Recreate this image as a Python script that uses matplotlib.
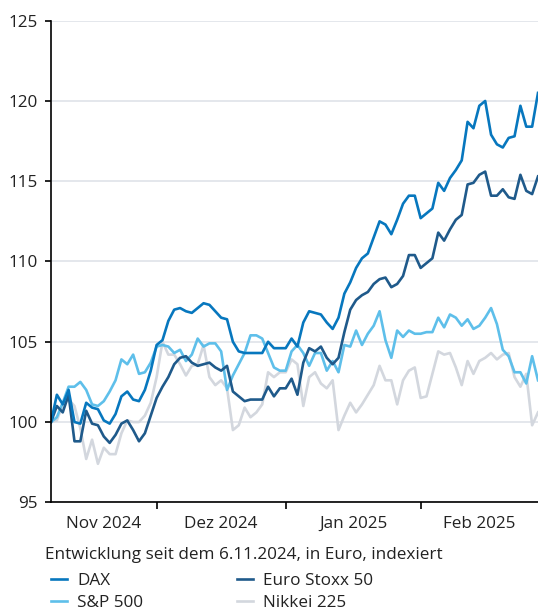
import numpy as np
import pandas as pd
import matplotlib
matplotlib.use("Agg")
import matplotlib.pyplot as plt

plt.rcParams['font.family'] = ['Open Sans', 'DejaVu Sans']

# ---------------------------
# Daten (Handelstage, indexiert 6.11.2024 = 100)
# ---------------------------
dates = pd.bdate_range('2024-11-06', '2025-03-03')

dax = [100.0, 101.7, 101.1, 102.0, 100.0, 99.9, 101.2, 100.9, 100.8, 100.1,
       99.9, 100.5, 101.6, 101.9, 101.4, 101.3, 102.0, 103.2, 104.8, 105.1,
       106.3, 107.0, 107.1, 106.9, 106.8, 107.1, 107.4, 107.3, 106.9, 106.5,
       106.4, 105.0, 104.4, 104.3, 104.3, 104.3, 104.3, 105.0, 104.6, 104.6,
       104.6, 105.2, 104.7, 106.2, 106.9, 106.8, 106.7, 106.2, 105.8, 106.5,
       108.0, 108.7, 109.6, 110.2, 110.5, 111.5, 112.5, 112.3, 111.7, 112.6,
       113.6, 114.1, 114.1, 112.7, 113.0, 113.3, 114.9, 114.4, 115.2, 115.7,
       116.3, 118.7, 118.3, 119.7, 120.0, 117.9, 117.3, 117.1, 117.7, 117.8,
       119.7, 118.4, 118.4, 120.5]

euro_stoxx = [100.0, 101.0, 100.6, 101.7, 98.8, 98.8, 100.7, 99.9, 99.8, 99.1,
              98.7, 99.2, 99.9, 100.1, 99.5, 98.8, 99.3, 100.4, 101.5, 102.2,
              102.8, 103.6, 104.0, 104.1, 103.7, 103.5, 103.6, 103.7, 103.4, 103.2,
              103.5, 101.9, 101.6, 101.3, 101.4, 101.4, 101.4, 102.2, 101.6, 102.1,
              102.1, 102.7, 101.7, 103.7, 104.6, 104.4, 104.7, 104.0, 103.6, 104.0,
              105.6, 107.0, 107.6, 107.9, 108.1, 108.6, 108.9, 109.0, 108.4, 108.6,
              109.1, 110.4, 110.4, 109.6, 109.9, 110.2, 111.8, 111.3, 112.0, 112.6,
              112.9, 114.8, 114.9, 115.4, 115.6, 114.1, 114.1, 114.5, 114.0, 113.9,
              115.4, 114.4, 114.2, 115.3]

sp500 = [100.0, 100.3, 101.2, 102.2, 102.2, 102.5, 102.0, 101.1, 101.0, 101.3,
         101.9, 102.6, 103.9, 103.6, 104.2, 103.0, 103.1, 103.7, 104.7, 104.8,
         104.7, 104.3, 104.5, 103.8, 104.2, 105.2, 104.7, 104.9, 104.9, 104.4,
         102.0, 102.9, 103.6, 104.3, 105.4, 105.4, 105.2, 104.3, 103.4, 103.2,
         103.2, 104.4, 104.8, 104.3, 103.5, 104.3, 104.3, 103.2, 103.8, 103.1,
         104.8, 104.7, 105.7, 104.8, 105.5, 106.0, 106.9, 105.1, 104.0, 105.7,
         105.3, 105.7, 105.5, 105.5, 105.6, 105.6, 106.5, 105.9, 106.7, 106.5,
         106.0, 106.4, 105.8, 106.0, 106.5, 107.1, 106.1, 104.5, 104.1, 103.1,
         103.1, 102.4, 104.1, 102.6]

nikkei = [100.0, 100.1, 101.1, 101.4, 101.0, 99.6, 97.7, 98.9, 97.4, 98.4,
          98.0, 98.0, 99.3, 100.1, 100.0, 100.0, 100.4, 101.2, 102.8, 105.0,
          104.2, 104.2, 103.6, 102.9, 103.5, 103.6, 104.8, 102.8, 102.3, 102.6,
          102.1, 99.5, 99.8, 100.9, 100.3, 100.6, 101.1, 103.1, 102.8, 103.1,
          103.1, 103.9, 103.6, 101.0, 102.8, 103.1, 102.4, 102.1, 102.6, 99.5,
          100.4, 101.2, 100.6, 101.1, 101.7, 102.3, 103.5, 102.6, 102.6, 101.1,
          102.6, 103.2, 103.4, 101.5, 101.6, 103.0, 104.4, 104.2, 104.3, 103.4,
          102.3, 103.8, 103.0, 103.8, 104.0, 104.3, 103.9, 104.2, 104.3, 102.8,
          102.2, 103.0, 99.8, 100.6]

monate = ['Jan', 'Feb', 'Mär', 'Apr', 'Mai', 'Jun',
          'Jul', 'Aug', 'Sep', 'Okt', 'Nov', 'Dez']

fs = 12.3

# ---------------------------
# Grafik
# ---------------------------
fig = plt.figure(figsize=(5.38, 6.12), dpi=100)
ax = fig.add_axes([51 / 538, 1 - 502.3 / 612, 487 / 538, 481.6 / 612])

x = np.arange(len(dates))
lw = 1.9
l_nik, = ax.plot(x, nikkei, color='#d3d7de', lw=lw, label='Nikkei 225')
l_sp, = ax.plot(x, sp500, color='#5ebfea', lw=lw, label='S&P 500')
l_eu, = ax.plot(x, euro_stoxx, color='#1f5a8b', lw=lw, label='Euro Stoxx 50')
l_dax, = ax.plot(x, dax, color='#0777be', lw=lw, label='DAX')

ax.set_xlim(0, len(dates) - 1)
ax.set_ylim(95, 125)
ax.set_yticks(range(95, 126, 5))
ax.yaxis.grid(True, color='#dfe3e9', lw=1.2)
ax.set_axisbelow(True)

for s in ['top', 'right']:
    ax.spines[s].set_visible(False)
for s in ['left', 'bottom']:
    ax.spines[s].set_color('black')
    ax.spines[s].set_linewidth(1.2)

ax.tick_params(axis='y', length=4.2, width=1.2, color='black',
               labelsize=fs, labelcolor='#222222', pad=5.5)

# Monatswechsel als Striche, Monatsnamen mittig dazwischen
starts = [i for i in range(1, len(dates)) if dates[i].month != dates[i - 1].month]
bounds = [0] + starts + [len(dates) - 1]
mids, labels = [], []
for a, b in zip(bounds[:-1], bounds[1:]):
    if b > a:
        mids.append((a + b) / 2)
        labels.append(f"{monate[dates[a].month - 1]} {dates[a].year}")
ticks = [s for s in starts if s < len(dates) - 1]

ax.set_xticks(ticks)
ax.set_xticklabels([])
ax.tick_params(axis='x', which='major', length=5, width=1.2, color='black')
ax.set_xticks(mids, minor=True)
ax.set_xticklabels(labels, minor=True)
ax.tick_params(axis='x', which='minor', length=0, pad=10,
               labelsize=fs, labelcolor='#222222')

fig.text(44.6 / 538, 1 - 555 / 612,
         'Entwicklung seit dem 6.11.2024, in Euro, indexiert',
         ha='left', va='center', fontsize=fs, color='#222222')

fig.legend(handles=[l_dax, l_sp, l_eu, l_nik], ncol=2, loc='upper left',
           bbox_to_anchor=(50.5 / 538, 1 - 573 / 612), frameon=False,
           fontsize=fs, handlelength=0.95, handletextpad=0.6,
           columnspacing=5.5, labelspacing=0.36, borderpad=0, borderaxespad=0,
           labelcolor='#222222')

fig.savefig('out.png', dpi=100)
